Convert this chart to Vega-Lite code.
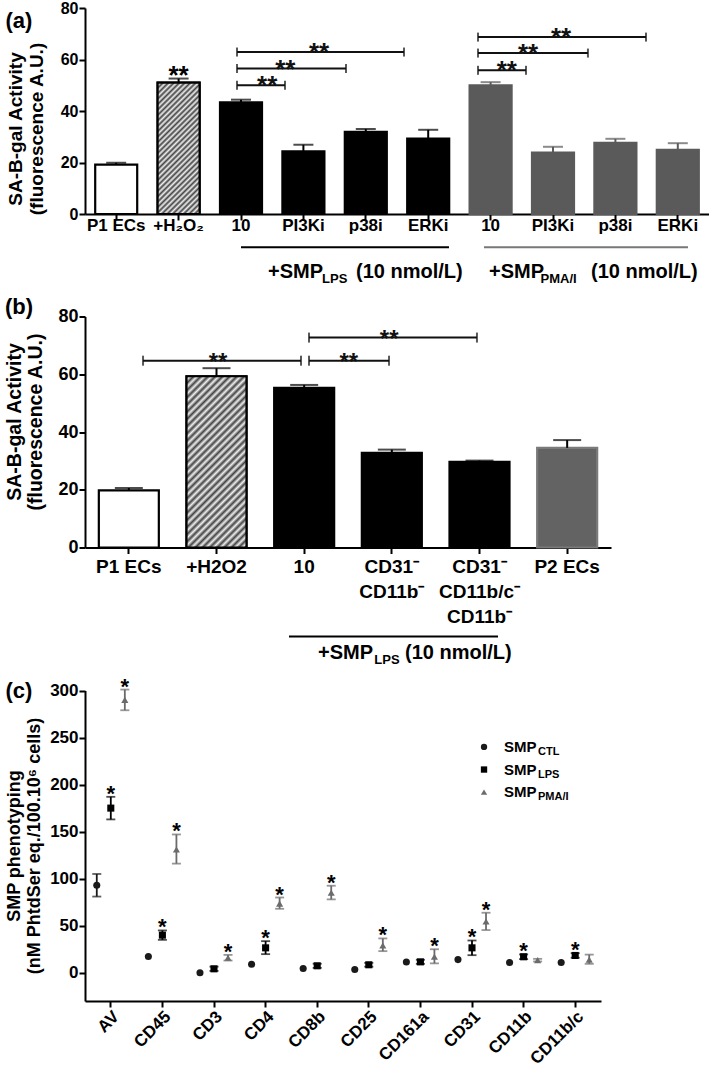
{
  "$schema": "https://vega.github.io/schema/vega-lite/v6.json",
  "autosize": {"type": "pad"},
  "padding": {"left": 3, "top": 0, "right": 1, "bottom": 0},
  "background": "white",
  "config": {
    "font": "Liberation Sans",
    "view": {"stroke": null},
    "axis": {"domainColor": "#000", "domainWidth": 2, "tickColor": "#000", "tickWidth": 2, "tickSize": 6, "labelFontWeight": "bold", "labelColor": "#000", "titleFontWeight": "bold", "titleColor": "#000", "grid": false},
    "text": {"fontWeight": "bold", "color": "#000"}
  },
  "resolve": {"scale": {"color": "independent", "fill": "independent", "stroke": "independent", "shape": "independent", "xOffset": "independent"}},
  "datasets": {
    "a_bars": [
      {"cat": "a_P1 ECs", "grp": "white", "mean": 19.2, "hi": 19.9},
      {"cat": "b_+H₂O₂", "grp": "hatch", "mean": 51.0, "hi": 52.6},
      {"cat": "c_10", "grp": "black", "mean": 43.4, "hi": 44.4},
      {"cat": "d_PI3Ki", "grp": "black", "mean": 24.3, "hi": 26.9},
      {"cat": "e_p38i", "grp": "black", "mean": 31.9, "hi": 33.0},
      {"cat": "f_ERKi", "grp": "black", "mean": 29.3, "hi": 32.7},
      {"cat": "g_10", "grp": "gray", "mean": 50.0, "hi": 51.2},
      {"cat": "h_PI3Ki", "grp": "gray", "mean": 23.8, "hi": 26.1},
      {"cat": "i_p38i", "grp": "gray", "mean": 27.6, "hi": 29.2},
      {"cat": "j_ERKi", "grp": "gray", "mean": 24.9, "hi": 27.5}
    ],
    "a_br": [
      {"x1": 2.436, "x2": 3.205, "lv": 50.0, "sx": 2.92},
      {"x1": 2.436, "x2": 4.183, "lv": 56.5, "sx": 3.21},
      {"x1": 2.436, "x2": 5.112, "lv": 62.9, "sx": 3.75},
      {"x1": 6.298, "x2": 7.067, "lv": 55.8, "sx": 6.76},
      {"x1": 6.298, "x2": 8.06, "lv": 62.5, "sx": 7.10},
      {"x1": 6.298, "x2": 8.99, "lv": 68.7, "sx": 7.63}
    ],
    "b_bars": [
      {"cat": "a|P1 ECs", "grp": "white", "mean": 19.8, "hi": 20.6},
      {"cat": "b|+H2O2", "grp": "hatch", "mean": 59.3, "hi": 62.1},
      {"cat": "c|10", "grp": "black", "mean": 55.3, "hi": 56.3},
      {"cat": "d|CD31⁻|CD11b⁻", "grp": "black", "mean": 32.8, "hi": 33.9},
      {"cat": "e|CD31⁻|CD11b/c⁻|CD11b⁻", "grp": "black", "mean": 29.7, "hi": 30.1},
      {"cat": "f|P2 ECs", "grp": "gray", "mean": 34.5, "hi": 37.2}
    ],
    "b_br": [
      {"x1": 0.662, "x2": 2.464, "lv": 64.7, "sx": 1.517},
      {"x1": 2.555, "x2": 3.468, "lv": 64.7, "sx": 3.01},
      {"x1": 2.555, "x2": 4.471, "lv": 72.7, "sx": 3.47}
    ],
    "c_pts": [
      {"m": "AV", "s": "CTL", "v": 93, "lo": 81, "hi": 105, "sig": false},
      {"m": "AV", "s": "LPS", "v": 175, "lo": 163, "hi": 187, "sig": true},
      {"m": "AV", "s": "PMA", "v": 290, "lo": 279, "hi": 301, "sig": true},
      {"m": "CD45", "s": "CTL", "v": 17.3, "lo": null, "hi": null, "sig": false},
      {"m": "CD45", "s": "LPS", "v": 40, "lo": 35, "hi": 45, "sig": true},
      {"m": "CD45", "s": "PMA", "v": 131, "lo": 116, "hi": 147, "sig": true},
      {"m": "CD3", "s": "CTL", "v": 0, "lo": null, "hi": null, "sig": false},
      {"m": "CD3", "s": "LPS", "v": 4.2, "lo": 2, "hi": 6.5, "sig": false},
      {"m": "CD3", "s": "PMA", "v": 16, "lo": 13, "hi": 19, "sig": true},
      {"m": "CD4", "s": "CTL", "v": 9.1, "lo": null, "hi": null, "sig": false},
      {"m": "CD4", "s": "LPS", "v": 26.5, "lo": 19.8, "hi": 33.6, "sig": true},
      {"m": "CD4", "s": "PMA", "v": 73.5, "lo": 68, "hi": 80, "sig": true},
      {"m": "CD8b", "s": "CTL", "v": 4.6, "lo": null, "hi": null, "sig": false},
      {"m": "CD8b", "s": "LPS", "v": 7.4, "lo": 5.2, "hi": 9.6, "sig": false},
      {"m": "CD8b", "s": "PMA", "v": 85, "lo": 78, "hi": 92.5, "sig": true},
      {"m": "CD25", "s": "CTL", "v": 3.4, "lo": null, "hi": null, "sig": false},
      {"m": "CD25", "s": "LPS", "v": 8.5, "lo": 6.5, "hi": 10.5, "sig": false},
      {"m": "CD25", "s": "PMA", "v": 29, "lo": 23, "hi": 36.5, "sig": true},
      {"m": "CD161a", "s": "CTL", "v": 11.5, "lo": null, "hi": null, "sig": false},
      {"m": "CD161a", "s": "LPS", "v": 11.6, "lo": 9.5, "hi": 13.8, "sig": false},
      {"m": "CD161a", "s": "PMA", "v": 17, "lo": 10, "hi": 25, "sig": true},
      {"m": "CD31", "s": "CTL", "v": 14, "lo": null, "hi": null, "sig": false},
      {"m": "CD31", "s": "LPS", "v": 26.5, "lo": 18.7, "hi": 34.3, "sig": true},
      {"m": "CD31", "s": "PMA", "v": 54.5, "lo": 45.4, "hi": 63.8, "sig": true},
      {"m": "CD11b", "s": "CTL", "v": 11, "lo": null, "hi": null, "sig": false},
      {"m": "CD11b", "s": "LPS", "v": 17, "lo": 14.5, "hi": 19.5, "sig": true},
      {"m": "CD11b", "s": "PMA", "v": 13.4, "lo": 12, "hi": 14.8, "sig": false},
      {"m": "CD11b/c", "s": "CTL", "v": 11, "lo": null, "hi": null, "sig": false},
      {"m": "CD11b/c", "s": "LPS", "v": 18.4, "lo": 16, "hi": 20.8, "sig": true},
      {"m": "CD11b/c", "s": "PMA", "v": 14, "lo": 9.5, "hi": 19.3, "sig": false}
    ]
  },
  "spacing": 102.5,
  "bounds": "flush",
  "vconcat": [
    {
      "width": 624,
      "height": 206,
      "resolve": {"scale": {"x": "independent"}},
      "layer": [
        {
          "data": {"name": "a_bars"},
          "encoding": {
            "x": {"field": "cat", "type": "nominal", "scale": {"paddingInner": 0.327, "paddingOuter": 0.1635},
              "axis": {"title": null, "labelExpr": "slice(datum.label, 2)", "labelFontSize": 17, "labelPadding": -3, "labelAngle": 0}}
          },
          "layer": [
            {
              "mark": {"type": "bar", "strokeWidth": 2.2, "width": 42},
              "encoding": {
                "y": {"field": "mean", "type": "quantitative", "scale": {"domain": [0, 80], "nice": false},
                  "axis": {"title": ["SA-B-gal Activity", "(fluorescence A.U.)"], "values": [0, 20, 40, 60, 80], "labelFontSize": 16, "labelPadding": 1, "titleFontSize": 19, "titleLineHeight": 21, "titleX": -60, "titleY": 120.5}},
                "fill": {"field": "grp", "type": "nominal", "scale": {"domain": ["white", "hatch", "black", "gray"], "range": ["#ffffff", "#9a9a9a", "#000000", "#5a5a5a"]}, "legend": null},
                "stroke": {"field": "grp", "type": "nominal", "scale": {"domain": ["white", "hatch", "black", "gray"], "range": ["#000000", "#000000", "#000000", "#5a5a5a"]}, "legend": null}
              }
            },
            {
              "transform": [{"filter": "datum.grp == 'hatch'"}],
              "mark": {"type": "bar", "stroke": "#000", "strokeWidth": 2.2, "width": 42,
                "fill": {"gradient": "linear", "x1": 0, "y1": 0, "x2": 0.38, "y2": 1.2, "stops": [
                  {"offset": 0, "color": "#444"}, {"offset": 0.0156, "color": "#eee"}, {"offset": 0.0313, "color": "#444"}, {"offset": 0.0469, "color": "#eee"},
                  {"offset": 0.0625, "color": "#444"}, {"offset": 0.0781, "color": "#eee"}, {"offset": 0.0938, "color": "#444"}, {"offset": 0.1094, "color": "#eee"},
                  {"offset": 0.125, "color": "#444"}, {"offset": 0.1406, "color": "#eee"}, {"offset": 0.1563, "color": "#444"}, {"offset": 0.1719, "color": "#eee"},
                  {"offset": 0.1875, "color": "#444"}, {"offset": 0.2031, "color": "#eee"}, {"offset": 0.2188, "color": "#444"}, {"offset": 0.2344, "color": "#eee"},
                  {"offset": 0.25, "color": "#444"}, {"offset": 0.2656, "color": "#eee"}, {"offset": 0.2813, "color": "#444"}, {"offset": 0.2969, "color": "#eee"},
                  {"offset": 0.3125, "color": "#444"}, {"offset": 0.3281, "color": "#eee"}, {"offset": 0.3438, "color": "#444"}, {"offset": 0.3594, "color": "#eee"},
                  {"offset": 0.375, "color": "#444"}, {"offset": 0.3906, "color": "#eee"}, {"offset": 0.4063, "color": "#444"}, {"offset": 0.4219, "color": "#eee"},
                  {"offset": 0.4375, "color": "#444"}, {"offset": 0.4531, "color": "#eee"}, {"offset": 0.4688, "color": "#444"}, {"offset": 0.4844, "color": "#eee"},
                  {"offset": 0.5, "color": "#444"}, {"offset": 0.5156, "color": "#eee"}, {"offset": 0.5313, "color": "#444"}, {"offset": 0.5469, "color": "#eee"},
                  {"offset": 0.5625, "color": "#444"}, {"offset": 0.5781, "color": "#eee"}, {"offset": 0.5938, "color": "#444"}, {"offset": 0.6094, "color": "#eee"},
                  {"offset": 0.625, "color": "#444"}, {"offset": 0.6406, "color": "#eee"}, {"offset": 0.6563, "color": "#444"}, {"offset": 0.6719, "color": "#eee"},
                  {"offset": 0.6875, "color": "#444"}, {"offset": 0.7031, "color": "#eee"}, {"offset": 0.7188, "color": "#444"}, {"offset": 0.7344, "color": "#eee"},
                  {"offset": 0.75, "color": "#444"}, {"offset": 0.7656, "color": "#eee"}, {"offset": 0.7813, "color": "#444"}, {"offset": 0.7969, "color": "#eee"},
                  {"offset": 0.8125, "color": "#444"}, {"offset": 0.8281, "color": "#eee"}, {"offset": 0.8438, "color": "#444"}, {"offset": 0.8594, "color": "#eee"},
                  {"offset": 0.875, "color": "#444"}, {"offset": 0.8906, "color": "#eee"}, {"offset": 0.9063, "color": "#444"}, {"offset": 0.9219, "color": "#eee"},
                  {"offset": 0.9375, "color": "#444"}, {"offset": 0.9531, "color": "#eee"}, {"offset": 0.9688, "color": "#444"}, {"offset": 0.9844, "color": "#eee"},
                  {"offset": 1, "color": "#444"}]}},
              "encoding": {"y": {"field": "mean", "type": "quantitative"}}
            },
            {
              "mark": {"type": "rule", "strokeWidth": 2},
              "encoding": {
                "y": {"field": "mean", "type": "quantitative"},
                "y2": {"field": "hi"},
                "color": {"field": "grp", "type": "nominal", "scale": {"domain": ["white", "hatch", "black", "gray"], "range": ["#000000", "#000000", "#000000", "#5a5a5a"]}, "legend": null}
              }
            },
            {
              "mark": {"type": "tick", "orient": "horizontal", "size": 20, "thickness": 2},
              "encoding": {
                "y": {"field": "hi", "type": "quantitative"},
                "color": {"field": "grp", "type": "nominal", "legend": null}
              }
            }
          ]
        },
        {
          "data": {"name": "a_br"},
          "encoding": {"y": {"field": "lv", "type": "quantitative"}},
          "layer": [
            {"mark": {"type": "rule", "strokeWidth": 2, "color": "#111"},
              "encoding": {"x": {"field": "x1", "type": "quantitative", "scale": {"domain": [0, 10], "nice": false, "zero": false}, "axis": null}, "x2": {"field": "x2"}}},
            {"mark": {"type": "tick", "orient": "vertical", "size": 9, "thickness": 2, "color": "#111"},
              "encoding": {"x": {"field": "x1", "type": "quantitative", "scale": {"domain": [0, 10], "nice": false, "zero": false}, "axis": null}}},
            {"mark": {"type": "tick", "orient": "vertical", "size": 9, "thickness": 2, "color": "#111"},
              "encoding": {"x": {"field": "x2", "type": "quantitative", "scale": {"domain": [0, 10], "nice": false, "zero": false}, "axis": null}}},
            {"mark": {"type": "text", "text": "**", "fontSize": 26, "baseline": "alphabetic", "dy": 9, "color": "#111"},
              "encoding": {"x": {"field": "sx", "type": "quantitative", "scale": {"domain": [0, 10], "nice": false, "zero": false}, "axis": null}}}
          ]
        },
        {
          "data": {"values": [{"t": "**"}]},
          "mark": {"type": "text", "fontSize": 26, "baseline": "alphabetic"},
          "encoding": {
            "text": {"field": "t", "type": "nominal"},
            "x": {"datum": 1.5, "type": "quantitative", "scale": {"domain": [0, 10], "nice": false, "zero": false}, "axis": null},
            "y": {"datum": 50.4, "type": "quantitative"}
          }
        },
        {
          "data": {"values": [{"t": "(a)"}]},
          "mark": {"type": "text", "fontSize": 22, "baseline": "middle"},
          "encoding": {
            "text": {"field": "t", "type": "nominal"},
            "x": {"datum": -1.058, "type": "quantitative", "scale": {"domain": [0, 10], "nice": false, "zero": false}, "axis": null},
            "y": {"datum": 74.8, "type": "quantitative"}
          }
        },
        {
          "data": {"values": [{"x1": 2.5, "x2": 5.833, "c": "k"}, {"x1": 6.394, "x2": 9.663, "c": "g"}]},
          "mark": {"type": "rule", "strokeWidth": 2},
          "encoding": {
            "x": {"field": "x1", "type": "quantitative", "scale": {"domain": [0, 10], "nice": false, "zero": false}, "axis": null},
            "x2": {"field": "x2"},
            "y": {"datum": -12.9, "type": "quantitative"},
            "color": {"condition": {"test": "datum.c == 'g'", "value": "#777777"}, "value": "#000000"}
          }
        },
        {
          "data": {"values": [{"t": "+SMP", "x": 2.933}, {"t": "(10 nmol/L)", "x": 4.343}, {"t": "+SMP", "x": 6.474}, {"t": "(10 nmol/L)", "x": 8.109}]},
          "mark": {"type": "text", "fontSize": 20, "align": "left", "baseline": "alphabetic"},
          "encoding": {
            "text": {"field": "t", "type": "nominal"},
            "x": {"field": "x", "type": "quantitative", "scale": {"domain": [0, 10], "nice": false, "zero": false}, "axis": null},
            "y": {"datum": -24.9, "type": "quantitative"}
          }
        },
        {
          "data": {"values": [{"t": "LPS", "x": 3.8}, {"t": "PMA/I", "x": 7.3}]},
          "mark": {"type": "text", "fontSize": 13, "align": "left", "baseline": "alphabetic", "dy": 5},
          "encoding": {
            "text": {"field": "t", "type": "nominal"},
            "x": {"field": "x", "type": "quantitative", "scale": {"domain": [0, 10], "nice": false, "zero": false}, "axis": null},
            "y": {"datum": -24.9, "type": "quantitative"}
          }
        }
      ]
    },
    {
      "width": 526,
      "height": 231,
      "resolve": {"scale": {"x": "independent"}},
      "layer": [
        {
          "data": {"name": "b_bars"},
          "encoding": {
            "x": {"field": "cat", "type": "nominal", "scale": {"paddingInner": 0.316, "paddingOuter": 0.158},
              "axis": {"title": null, "labelExpr": "slice(split(datum.label, '|'), 1)", "labelFontSize": 19, "labelPadding": 4, "labelAngle": 0, "labelLineHeight": 25}}
          },
          "layer": [
            {
              "mark": {"type": "bar", "strokeWidth": 2.2, "width": 60},
              "encoding": {
                "y": {"field": "mean", "type": "quantitative", "scale": {"domain": [0, 80], "nice": false},
                  "axis": {"title": ["SA-B-gal Activity", "(fluorescence A.U.)"], "values": [0, 20, 40, 60, 80], "labelFontSize": 18, "labelPadding": 1, "titleFontSize": 19.5, "titleLineHeight": 21, "titleX": -61, "titleY": 105}},
                "fill": {"field": "grp", "type": "nominal", "scale": {"domain": ["white", "hatch", "black", "gray"], "range": ["#ffffff", "#9a9a9a", "#000000", "#636363"]}, "legend": null},
                "stroke": {"field": "grp", "type": "nominal", "scale": {"domain": ["white", "hatch", "black", "gray"], "range": ["#000000", "#000000", "#000000", "#7a7a7a"]}, "legend": null}
              }
            },
            {
              "transform": [{"filter": "datum.grp == 'hatch'"}],
              "mark": {"type": "bar", "stroke": "#000", "strokeWidth": 2.2, "width": 60,
                "fill": {"gradient": "linear", "x1": 0, "y1": 0, "x2": 0.42, "y2": 1.2, "stops": [
                  {"offset": 0, "color": "#444"}, {"offset": 0.0156, "color": "#eee"}, {"offset": 0.0313, "color": "#444"}, {"offset": 0.0469, "color": "#eee"},
                  {"offset": 0.0625, "color": "#444"}, {"offset": 0.0781, "color": "#eee"}, {"offset": 0.0938, "color": "#444"}, {"offset": 0.1094, "color": "#eee"},
                  {"offset": 0.125, "color": "#444"}, {"offset": 0.1406, "color": "#eee"}, {"offset": 0.1563, "color": "#444"}, {"offset": 0.1719, "color": "#eee"},
                  {"offset": 0.1875, "color": "#444"}, {"offset": 0.2031, "color": "#eee"}, {"offset": 0.2188, "color": "#444"}, {"offset": 0.2344, "color": "#eee"},
                  {"offset": 0.25, "color": "#444"}, {"offset": 0.2656, "color": "#eee"}, {"offset": 0.2813, "color": "#444"}, {"offset": 0.2969, "color": "#eee"},
                  {"offset": 0.3125, "color": "#444"}, {"offset": 0.3281, "color": "#eee"}, {"offset": 0.3438, "color": "#444"}, {"offset": 0.3594, "color": "#eee"},
                  {"offset": 0.375, "color": "#444"}, {"offset": 0.3906, "color": "#eee"}, {"offset": 0.4063, "color": "#444"}, {"offset": 0.4219, "color": "#eee"},
                  {"offset": 0.4375, "color": "#444"}, {"offset": 0.4531, "color": "#eee"}, {"offset": 0.4688, "color": "#444"}, {"offset": 0.4844, "color": "#eee"},
                  {"offset": 0.5, "color": "#444"}, {"offset": 0.5156, "color": "#eee"}, {"offset": 0.5313, "color": "#444"}, {"offset": 0.5469, "color": "#eee"},
                  {"offset": 0.5625, "color": "#444"}, {"offset": 0.5781, "color": "#eee"}, {"offset": 0.5938, "color": "#444"}, {"offset": 0.6094, "color": "#eee"},
                  {"offset": 0.625, "color": "#444"}, {"offset": 0.6406, "color": "#eee"}, {"offset": 0.6563, "color": "#444"}, {"offset": 0.6719, "color": "#eee"},
                  {"offset": 0.6875, "color": "#444"}, {"offset": 0.7031, "color": "#eee"}, {"offset": 0.7188, "color": "#444"}, {"offset": 0.7344, "color": "#eee"},
                  {"offset": 0.75, "color": "#444"}, {"offset": 0.7656, "color": "#eee"}, {"offset": 0.7813, "color": "#444"}, {"offset": 0.7969, "color": "#eee"},
                  {"offset": 0.8125, "color": "#444"}, {"offset": 0.8281, "color": "#eee"}, {"offset": 0.8438, "color": "#444"}, {"offset": 0.8594, "color": "#eee"},
                  {"offset": 0.875, "color": "#444"}, {"offset": 0.8906, "color": "#eee"}, {"offset": 0.9063, "color": "#444"}, {"offset": 0.9219, "color": "#eee"},
                  {"offset": 0.9375, "color": "#444"}, {"offset": 0.9531, "color": "#eee"}, {"offset": 0.9688, "color": "#444"}, {"offset": 0.9844, "color": "#eee"},
                  {"offset": 1, "color": "#444"}]}},
              "encoding": {"y": {"field": "mean", "type": "quantitative"}}
            },
            {
              "mark": {"type": "rule", "strokeWidth": 2, "color": "#000"},
              "encoding": {
                "y": {"field": "mean", "type": "quantitative"},
                "y2": {"field": "hi"}
              }
            },
            {
              "mark": {"type": "tick", "orient": "horizontal", "size": 28, "thickness": 2, "color": "#000"},
              "encoding": {"y": {"field": "hi", "type": "quantitative"}}
            }
          ]
        },
        {
          "data": {"name": "b_br"},
          "encoding": {"y": {"field": "lv", "type": "quantitative"}},
          "layer": [
            {"mark": {"type": "rule", "strokeWidth": 2, "color": "#111"},
              "encoding": {"x": {"field": "x1", "type": "quantitative", "scale": {"domain": [0, 6], "nice": false, "zero": false}, "axis": null}, "x2": {"field": "x2"}}},
            {"mark": {"type": "tick", "orient": "vertical", "size": 10, "thickness": 2, "color": "#111"},
              "encoding": {"x": {"field": "x1", "type": "quantitative", "scale": {"domain": [0, 6], "nice": false, "zero": false}, "axis": null}}},
            {"mark": {"type": "tick", "orient": "vertical", "size": 10, "thickness": 2, "color": "#111"},
              "encoding": {"x": {"field": "x2", "type": "quantitative", "scale": {"domain": [0, 6], "nice": false, "zero": false}, "axis": null}}},
            {"mark": {"type": "text", "text": "**", "fontSize": 24, "baseline": "alphabetic", "dy": 9, "color": "#111"},
              "encoding": {"x": {"field": "sx", "type": "quantitative", "scale": {"domain": [0, 6], "nice": false, "zero": false}, "axis": null}}}
          ]
        },
        {
          "data": {"values": [{"t": "(b)"}]},
          "mark": {"type": "text", "fontSize": 22, "baseline": "middle"},
          "encoding": {
            "text": {"field": "t", "type": "nominal"},
            "x": {"datum": -0.753, "type": "quantitative", "scale": {"domain": [0, 6], "nice": false, "zero": false}, "axis": null},
            "y": {"datum": 83.4, "type": "quantitative"}
          }
        },
        {
          "data": {"values": [{"x1": 2.327, "x2": 4.711}]},
          "mark": {"type": "rule", "strokeWidth": 2, "color": "#000"},
          "encoding": {
            "x": {"field": "x1", "type": "quantitative", "scale": {"domain": [0, 6], "nice": false, "zero": false}, "axis": null},
            "x2": {"field": "x2"},
            "y": {"datum": -30.8, "type": "quantitative"}
          }
        },
        {
          "data": {"values": [{"t": "+SMP", "x": 2.658}, {"t": "(10 nmol/L)", "x": 3.65}]},
          "mark": {"type": "text", "fontSize": 20, "align": "left", "baseline": "alphabetic"},
          "encoding": {
            "text": {"field": "t", "type": "nominal"},
            "x": {"field": "x", "type": "quantitative", "scale": {"domain": [0, 6], "nice": false, "zero": false}, "axis": null},
            "y": {"datum": -38.6, "type": "quantitative"}
          }
        },
        {
          "data": {"values": [{"t": "LPS", "x": 3.3}]},
          "mark": {"type": "text", "fontSize": 13, "align": "left", "baseline": "alphabetic", "dy": 5},
          "encoding": {
            "text": {"field": "t", "type": "nominal"},
            "x": {"field": "x", "type": "quantitative", "scale": {"domain": [0, 6], "nice": false, "zero": false}, "axis": null},
            "y": {"datum": -38.6, "type": "quantitative"}
          }
        }
      ]
    },
    {
      "width": 516,
      "height": 351,
      "resolve": {"scale": {"x": "independent"}},
      "layer": [
        {
          "data": {"name": "c_pts"},
          "encoding": {
            "x": {"field": "m", "type": "nominal", "sort": ["AV", "CD45", "CD3", "CD4", "CD8b", "CD25", "CD161a", "CD31", "CD11b", "CD11b/c"],
              "scale": {"paddingInner": 0, "paddingOuter": 0},
              "axis": {"title": null, "labelAngle": -45, "labelFontSize": 17, "labelPadding": 1}},
            "xOffset": {"field": "s", "type": "nominal", "sort": ["CTL", "LPS", "PMA"], "scale": {"type": "point", "padding": 0.84}},
            "color": {"field": "s", "type": "nominal", "scale": {"domain": ["CTL", "LPS", "PMA"], "range": ["#1a1a1a", "#000000", "#6b6b6b"]}, "legend": null}
          },
          "layer": [
            {
              "mark": {"type": "rule", "strokeWidth": 1.8},
              "encoding": {
                "y": {"field": "lo", "type": "quantitative", "scale": {"domain": [-30, 300], "range": [351, 40.5], "nice": false, "zero": false},
                  "axis": {"title": ["SMP phenotyping", "(nM PhtdSer eq./100.10⁶ cells)"], "values": [0, 50, 100, 150, 200, 250, 300], "labelFontSize": 17, "labelPadding": 1, "titleFontSize": 18, "titleLineHeight": 20, "titleX": -62, "titleY": 195.5}},
                "y2": {"field": "hi"}
              }
            },
            {
              "mark": {"type": "tick", "orient": "horizontal", "size": 9, "thickness": 1.8},
              "encoding": {"y": {"field": "lo", "type": "quantitative"}}
            },
            {
              "mark": {"type": "tick", "orient": "horizontal", "size": 9, "thickness": 1.8},
              "encoding": {"y": {"field": "hi", "type": "quantitative"}}
            },
            {
              "mark": {"type": "point", "filled": true, "opacity": 1, "size": 50},
              "encoding": {
                "y": {"field": "v", "type": "quantitative"},
                "shape": {"field": "s", "type": "nominal", "scale": {"domain": ["CTL", "LPS", "PMA"], "range": ["circle", "square", "triangle-up"]}, "legend": null}
              }
            },
            {
              "transform": [{"filter": "datum.sig"}],
              "mark": {"type": "text", "text": "*", "fontSize": 22, "baseline": "alphabetic", "dy": 4},
              "encoding": {"y": {"field": "hi", "type": "quantitative"}, "color": {"value": "#000"}}
            }
          ]
        },
        {
          "mark": {"type": "rule", "strokeDash": [2, 2], "strokeWidth": 1.5, "color": "#000"},
          "encoding": {"y": {"datum": 0, "type": "quantitative"}}
        },
        {
          "data": {"values": [{"s": "CTL", "ly": 240, "sub": "CTL"}, {"s": "LPS", "ly": 216, "sub": "LPS"}, {"s": "PMA", "ly": 192, "sub": "PMA/I"}]},
          "encoding": {"y": {"field": "ly", "type": "quantitative"}},
          "layer": [
            {
              "mark": {"type": "point", "filled": true, "opacity": 1, "size": 40},
              "encoding": {
                "x": {"datum": 7.733, "type": "quantitative", "scale": {"domain": [0, 10], "nice": false, "zero": false}, "axis": null},
                "shape": {"field": "s", "type": "nominal", "legend": null},
                "color": {"field": "s", "type": "nominal", "legend": null}
              }
            },
            {
              "mark": {"type": "text", "text": "SMP", "fontSize": 15, "align": "left", "baseline": "middle"},
              "encoding": {"x": {"datum": 8.12, "type": "quantitative", "scale": {"domain": [0, 10], "nice": false, "zero": false}, "axis": null}}
            },
            {
              "mark": {"type": "text", "fontSize": 11, "align": "left", "baseline": "middle", "dy": 5},
              "encoding": {
                "text": {"field": "sub", "type": "nominal"},
                "x": {"datum": 8.779, "type": "quantitative", "scale": {"domain": [0, 10], "nice": false, "zero": false}, "axis": null}
              }
            }
          ]
        },
        {
          "data": {"values": [{"t": "(c)"}]},
          "mark": {"type": "text", "fontSize": 22, "baseline": "middle"},
          "encoding": {
            "text": {"field": "t", "type": "nominal"},
            "x": {"datum": -1.28, "type": "quantitative", "scale": {"domain": [0, 10], "nice": false, "zero": false}, "axis": null},
            "y": {"datum": 300, "type": "quantitative"}
          }
        }
      ]
    }
  ]
}
